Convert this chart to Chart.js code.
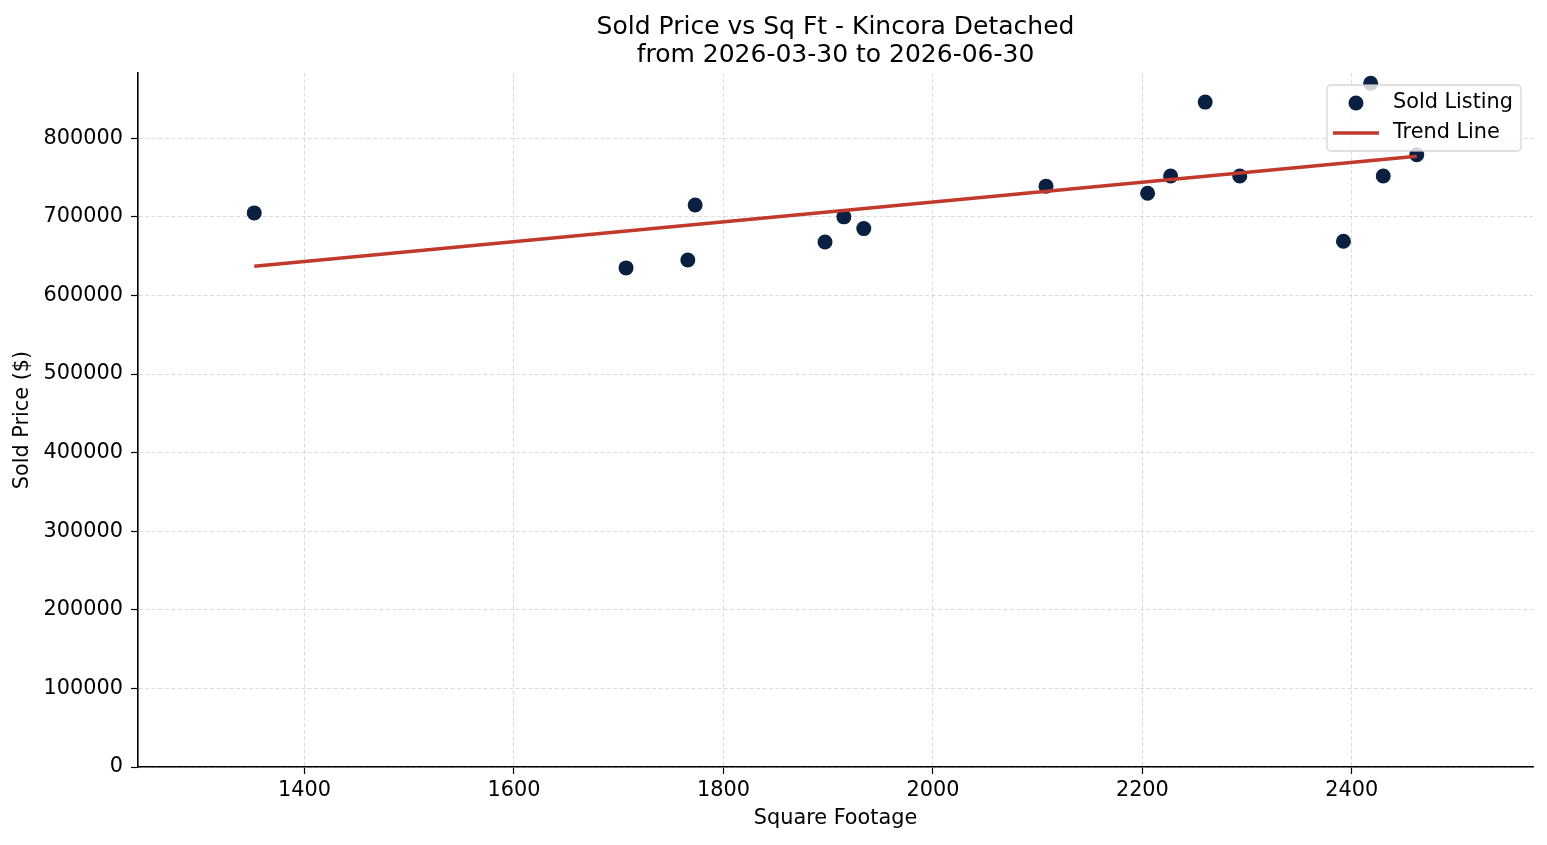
<!DOCTYPE html>
<html>
<head>
<meta charset="utf-8">
<title>Sold Price vs Sq Ft - Kincora Detached</title>
<script src="https://cdn.jsdelivr.net/npm/chart.js@4.4.1/dist/chart.umd.min.js"></script>
<style>
  html, body { margin: 0; padding: 0; background: #fff; }
  #wrap { width: 1547px; height: 845px; }
</style>
</head>
<body>
<div id="wrap"><canvas id="chart" width="1547" height="845"></canvas></div>
<script>
// sold listings
const sqft = [1352, 1707, 1766, 1773, 1897, 1915, 1934, 2108, 2205, 2227, 2260, 2293, 2392, 2418, 2430, 2462];
const price = [705000, 635000, 645000, 715000, 668000, 700000, 685000, 739000, 730000, 752000, 846000, 752000, 669000, 870000, 752000, 779000];

// trend line end points
const trendSqft = [1352, 2462];
const trendPrice = [637000, 777000];

const xTicks = [1400, 1600, 1800, 2000, 2200, 2400];
const yTicks = [0, 100000, 200000, 300000, 400000, 500000, 600000, 700000, 800000];

const titleLines = ["Sold Price vs Sq Ft - Kincora Detached", "from 2026-03-30 to 2026-06-30"];

const NAVY = "#0b2040";
const RED = "#c0392b";
const FONT = "'DejaVu Sans', sans-serif";

// title centred over the plot area, like matplotlib does
const axesTitle = {
  id: "axesTitle",
  afterDraw(chart) {
    const ctx = chart.ctx;
    const area = chart.chartArea;
    ctx.save();
    ctx.font = "25px " + FONT;
    ctx.fillStyle = "#000";
    ctx.textAlign = "center";
    ctx.textBaseline = "middle";
    const cx = (area.left + area.right) / 2;
    titleLines.forEach((t, i) => ctx.fillText(t, cx, area.top - 46 + i * 28));
    ctx.restore();
  }
};

// matplotlib-style legend box in the upper right corner of the plot
const boxLegend = {
  id: "boxLegend",
  afterDatasetsDraw(chart) {
    const ctx = chart.ctx;
    const area = chart.chartArea;
    const items = [
      { label: "Sold Listing", kind: "point" },
      { label: "Trend Line", kind: "line" }
    ];
    ctx.save();
    ctx.font = "20.8px " + FONT;
    const textW = Math.max(...items.map(i => ctx.measureText(i.label).width));
    const w = 6 + 46 + 14 + textW + 8;
    const h = 66;
    const x = area.right - 12 - w;
    const y = area.top + 12;

    ctx.beginPath();
    ctx.roundRect(x, y, w, h, 4);
    ctx.fillStyle = "rgba(255,255,255,0.8)";
    ctx.fill();
    ctx.strokeStyle = "rgba(204,204,204,0.8)";
    ctx.lineWidth = 1.3;
    ctx.stroke();

    items.forEach((it, i) => {
      const cy = y + 18 + i * 30;
      if (it.kind === "point") {
        ctx.beginPath();
        ctx.arc(x + 29, cy, 7.5, 0, Math.PI * 2);
        ctx.fillStyle = NAVY;
        ctx.fill();
      } else {
        ctx.beginPath();
        ctx.moveTo(x + 6, cy);
        ctx.lineTo(x + 52, cy);
        ctx.strokeStyle = RED;
        ctx.lineWidth = 3.5;
        ctx.stroke();
      }
      ctx.fillStyle = "#000";
      ctx.textBaseline = "middle";
      ctx.textAlign = "left";
      ctx.fillText(it.label, x + 66, cy);
    });
    ctx.restore();
  }
};

new Chart(document.getElementById("chart"), {
  type: "scatter",
  data: {
    datasets: [
      {
        type: "line",
        label: "Trend Line",
        data: trendSqft.map((v, i) => ({ x: v, y: trendPrice[i] })),
        borderColor: RED,
        borderWidth: 3.5,
        pointRadius: 0,
        fill: false,
        tension: 0
      },
      {
        label: "Sold Listing",
        data: sqft.map((v, i) => ({ x: v, y: price[i] })),
        backgroundColor: NAVY,
        borderColor: NAVY,
        borderWidth: 0,
        pointRadius: 7.5,
        pointHoverRadius: 7.5
      }
    ]
  },
  options: {
    responsive: false,
    animation: false,
    layout: { padding: { left: 0, right: 14, top: 73, bottom: 0 } },
    plugins: {
      legend: { display: false },
      tooltip: { enabled: false },
      title: { display: false }
    },
    scales: {
      x: {
        type: "linear",
        min: 1241,
        max: 2573,
        afterBuildTicks: s => { s.ticks = xTicks.map(v => ({ value: v })); },
        afterFit: s => { s.height = 78; },
        ticks: {
          color: "#000",
          font: { family: FONT, size: 20.8 },
          padding: 4,
          maxRotation: 0,
          callback: v => String(v)
        },
        grid: {
          color: "rgba(190,190,190,0.7)",
          lineWidth: 0.8,
          tickColor: "#000",
          tickLength: 7,
          tickWidth: 1.2,
          tickBorderDash: []
        },
        border: { display: true, color: "#000", width: 1.6, dash: [4, 2.5] },
        title: {
          display: true,
          text: "Square Footage",
          color: "#000",
          font: { family: FONT, size: 20.8 },
          padding: { top: 0, bottom: 13.5 }
        }
      },
      y: {
        type: "linear",
        min: 0,
        max: 883000,
        afterBuildTicks: s => { s.ticks = yTicks.map(v => ({ value: v })); },
        afterFit: s => { s.width = 138; },
        ticks: {
          color: "#000",
          font: { family: FONT, size: 20.8 },
          padding: 8,
          callback: v => String(v)
        },
        grid: {
          color: "rgba(190,190,190,0.7)",
          lineWidth: 0.8,
          tickColor: "#000",
          tickLength: 7,
          tickWidth: 1.2,
          tickBorderDash: []
        },
        border: { display: true, color: "#000", width: 1.6, dash: [4, 2.5] },
        title: {
          display: true,
          text: "Sold Price ($)",
          color: "#000",
          font: { family: FONT, size: 20.8 },
          padding: { top: 10.5, bottom: 0 }
        }
      }
    }
  },
  plugins: [axesTitle, boxLegend]
});
</script>
</body>
</html>
